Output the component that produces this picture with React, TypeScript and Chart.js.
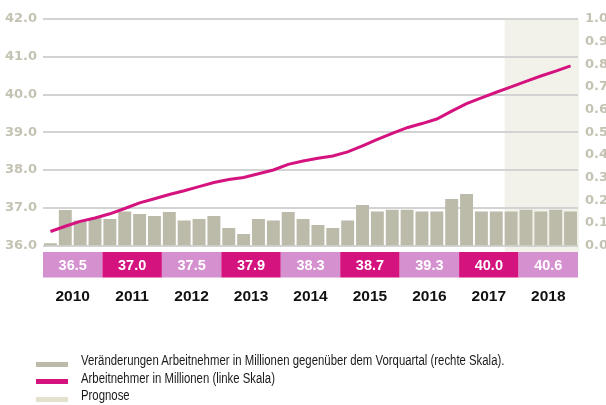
import React, { useEffect, useRef } from "react";
import { Chart, registerables } from "chart.js";

Chart.register(...registerables);

const quarters: string[] = [];
const years = ["2010", "2011", "2012", "2013", "2014", "2015", "2016", "2017", "2018"];
years.forEach((y) => ["Q1", "Q2", "Q3", "Q4"].forEach((q) => quarters.push(y + " " + q)));

const yearAverages = ["36.5", "37.0", "37.5", "37.9", "38.3", "38.7", "39.3", "40.0", "40.6"];

const changeValues = [
  0.01, 0.157, 0.11, 0.12,
  0.117, 0.15, 0.139, 0.13,
  0.148, 0.11, 0.117, 0.13,
  0.077, 0.051, 0.117, 0.11,
  0.148, 0.117, 0.09, 0.077,
  0.11, 0.179, 0.15, 0.158,
  0.158, 0.15, 0.15, 0.205,
  0.227, 0.15, 0.15, 0.15,
  0.158, 0.15, 0.158, 0.15,
];

const employeeValues = [
  36.37, 36.51, 36.64, 36.73,
  36.84, 36.98, 37.13, 37.24,
  37.35, 37.45, 37.56, 37.67,
  37.75, 37.8, 37.9, 38.0,
  38.15, 38.24, 38.31, 38.37,
  38.48, 38.64, 38.81, 38.97,
  39.12, 39.23, 39.35, 39.56,
  39.76, 39.91, 40.06, 40.2,
  40.35, 40.49, 40.62, 40.76,
];

const forecastStartIndex = 31;

const GRAY = "#bcbaa9";
const MAGENTA = "#d4137f";
const ORCHID = "#d590d0";
const SHADE = "#f3f2ea";
const TICK = "#c4c2b2";

const legendItems = [
  { color: GRAY, text: "Veränderungen Arbeitnehmer in Millionen gegenüber dem Vorquartal (rechte Skala)." },
  { color: MAGENTA, text: "Arbeitnehmer in Millionen (linke Skala)" },
  { color: "#e4e2cf", text: "Prognose" },
];

const decorPlugin = {
  id: "decor",
  beforeDraw(chart: any) {
    const { ctx, chartArea } = chart;
    const w = chartArea.width / quarters.length;
    const x0 = chartArea.left + forecastStartIndex * w + 1;
    ctx.save();
    ctx.fillStyle = SHADE;
    ctx.fillRect(x0, chartArea.top, chartArea.right - x0 + 1, chartArea.bottom - chartArea.top + 7);
    ctx.restore();
  },
  afterDraw(chart: any) {
    const { ctx, chartArea } = chart;
    const w = chartArea.width / quarters.length;
    ctx.save();
    years.forEach((y, k) => {
      const xa = chartArea.left + 4 * k * w;
      const xb = chartArea.left + 4 * (k + 1) * w;
      ctx.fillStyle = k % 2 === 0 ? ORCHID : MAGENTA;
      ctx.fillRect(xa, chartArea.bottom + 6.5, xb - xa, 25.5);
      ctx.fillStyle = "#ffffff";
      ctx.font = "bold 14.5px 'Liberation Sans', Arial, sans-serif";
      ctx.textAlign = "center";
      ctx.textBaseline = "middle";
      ctx.fillText(yearAverages[k], (xa + xb) / 2, chartArea.bottom + 20);
      ctx.fillStyle = "#111111";
      ctx.font = "bold 15.5px 'Liberation Sans', Arial, sans-serif";
      ctx.fillText(y, (xa + xb) / 2, chartArea.bottom + 51);
    });
    ctx.restore();
  },
};

export default function App() {
  const ref = useRef<HTMLCanvasElement | null>(null);
  useEffect(() => {
    if (!ref.current) return;
    const chart = new Chart(ref.current, {
      type: "bar",
      data: {
        labels: quarters,
        datasets: [
          {
            type: "line",
            label: "Arbeitnehmer in Millionen (linke Skala)",
            data: employeeValues,
            yAxisID: "y",
            borderColor: MAGENTA,
            borderWidth: 3,
            pointRadius: 0,
            tension: 0,
            order: 0,
          } as any,
          {
            type: "bar",
            label: "Veränderungen Arbeitnehmer in Millionen gegenüber dem Vorquartal (rechte Skala).",
            data: changeValues,
            yAxisID: "y1",
            backgroundColor: GRAY,
            categoryPercentage: 1,
            barPercentage: 0.87,
            order: 1,
          },
        ],
      },
      options: {
        responsive: false,
        animation: false,
        layout: { padding: { top: 19, bottom: 159.5, left: 0, right: 0 } },
        plugins: { legend: { display: false }, tooltip: { enabled: false } },
        scales: {
          x: { display: false, offset: true },
          y: {
            position: "left",
            min: 36,
            max: 42,
            ticks: {
              stepSize: 1,
              padding: 6,
              color: TICK,
              font: { family: "'DejaVu Sans'", size: 13, weight: "bold" },
              callback: (v: any) => Number(v).toFixed(1),
            },
            grid: { color: "#d3d3d3", lineWidth: 2, drawTicks: false },
            border: { display: false },
            afterFit: (s: any) => { s.width = 43; },
          },
          y1: {
            position: "right",
            min: 0,
            max: 1,
            ticks: {
              stepSize: 0.1,
              padding: 7,
              color: TICK,
              font: { family: "'DejaVu Sans'", size: 13, weight: "bold" },
              callback: (v: any) => Number(v).toFixed(1),
            },
            grid: { display: false, drawTicks: false },
            border: { display: false },
            afterFit: (s: any) => { s.width = 28; },
          },
        },
      },
      plugins: [decorPlugin],
    });
    return () => chart.destroy();
  }, []);

  return (
    <div style={{ position: "fixed", left: 0, top: 0, width: 606, height: 405, background: "#fff", overflow: "hidden" }}>
      <canvas ref={ref} width={606} height={405} style={{ position: "absolute", left: 0, top: 0 }} />
      {legendItems.map((item, i) => (
        <React.Fragment key={i}>
          <div
            style={{
              position: "absolute",
              left: 36,
              top: 361.7 + i * 17.5,
              width: 32,
              height: 5,
              background: item.color,
            }}
          />
          <div
            style={{
              position: "absolute",
              left: 81,
              top: 352 + i * 17.5,
              font: "14px 'Liberation Sans', Arial, sans-serif",
              lineHeight: "17.5px",
              color: "#1a1a1a",
              whiteSpace: "nowrap",
              transform: "scaleX(0.812)",
              transformOrigin: "left center",
            }}
          >
            {item.text}
          </div>
        </React.Fragment>
      ))}
    </div>
  );
}
